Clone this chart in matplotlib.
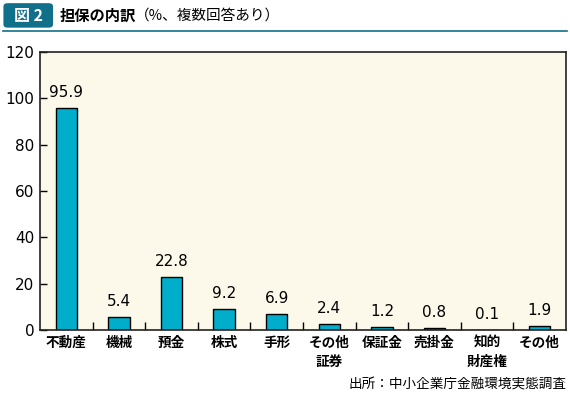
import matplotlib.pyplot as plt
import matplotlib.patches as mpatches
import numpy as np

plt.rcParams['font.family'] = ['Noto Sans CJK JP', 'DejaVu Sans']

categories = ['不動産', '機械', '預金', '株式', '手形', 'その他\n証券', '保証金', '売掛金', '知的\n財産権', 'その他']
values = [95.9, 5.4, 22.8, 9.2, 6.9, 2.4, 1.2, 0.8, 0.1, 1.9]
yticks = [0, 20, 40, 60, 80, 100, 120]

BAR_COLOR = '#00aecb'
BG_COLOR = '#fdf9ea'
TEAL = '#106f89'
NUM_FONT = ['DejaVu Sans']

fig = plt.figure(figsize=(5.7, 3.95), dpi=100, facecolor='white')
ax = fig.add_axes([0.0702, 0.1646, 0.9228, 0.7034])
ax.set_facecolor(BG_COLOR)

x = np.arange(len(categories))
ax.bar(x, values, width=0.41, color=BAR_COLOR, edgecolor='black', linewidth=1.0, zorder=2)

for xi, v in zip(x, values):
    ax.text(xi, v + 6.7, f'{v:.1f}', ha='center', va='center', fontsize=11, family=NUM_FONT)

ax.set_xlim(-0.5, len(categories) - 0.5)
ax.set_ylim(0, 120)
ax.set_yticks(yticks)
ax.set_yticklabels([str(t) for t in yticks], family=NUM_FONT, fontsize=11)
ax.tick_params(axis='y', direction='in', length=5, width=1, pad=4)

# category boundary ticks
ax.set_xticks(np.arange(0.5, len(categories) - 0.5, 1.0))
ax.set_xticklabels([])
ax.tick_params(axis='x', direction='in', length=6, width=1)
for xi, lab in zip(x, categories):
    ax.text(xi, -2.4, lab, ha='center', va='top', fontsize=9.8, fontweight='bold',
            linespacing=1.45)

for sp in ax.spines.values():
    sp.set_linewidth(1.2)
    sp.set_color('#222222')

# header
fig.patches.append(mpatches.FancyBboxPatch((0.006, 0.93), 0.087, 0.062, boxstyle='round,pad=0,rounding_size=0.008',
                                           transform=fig.transFigure, facecolor=TEAL, edgecolor='none'))
fig.text(0.05, 0.96, '図 2', ha='center', va='center', color='white', fontsize=11.5, fontweight='bold')
fig.text(0.104, 0.96, '担保の内訳', ha='left', va='center', fontsize=11, fontweight='bold')
fig.text(0.236, 0.96, '（%、複数回答あり）', ha='left', va='center', fontsize=10.5)
fig.add_artist(plt.Line2D([0.005, 0.995], [0.921, 0.921], transform=fig.transFigure, color=TEAL, linewidth=1.2))

fig.text(0.993, 0.026, '出所：中小企業庁金融環境実態調査', ha='right', va='center', fontsize=9.8)

fig.savefig('out.png', dpi=100, facecolor='white')
